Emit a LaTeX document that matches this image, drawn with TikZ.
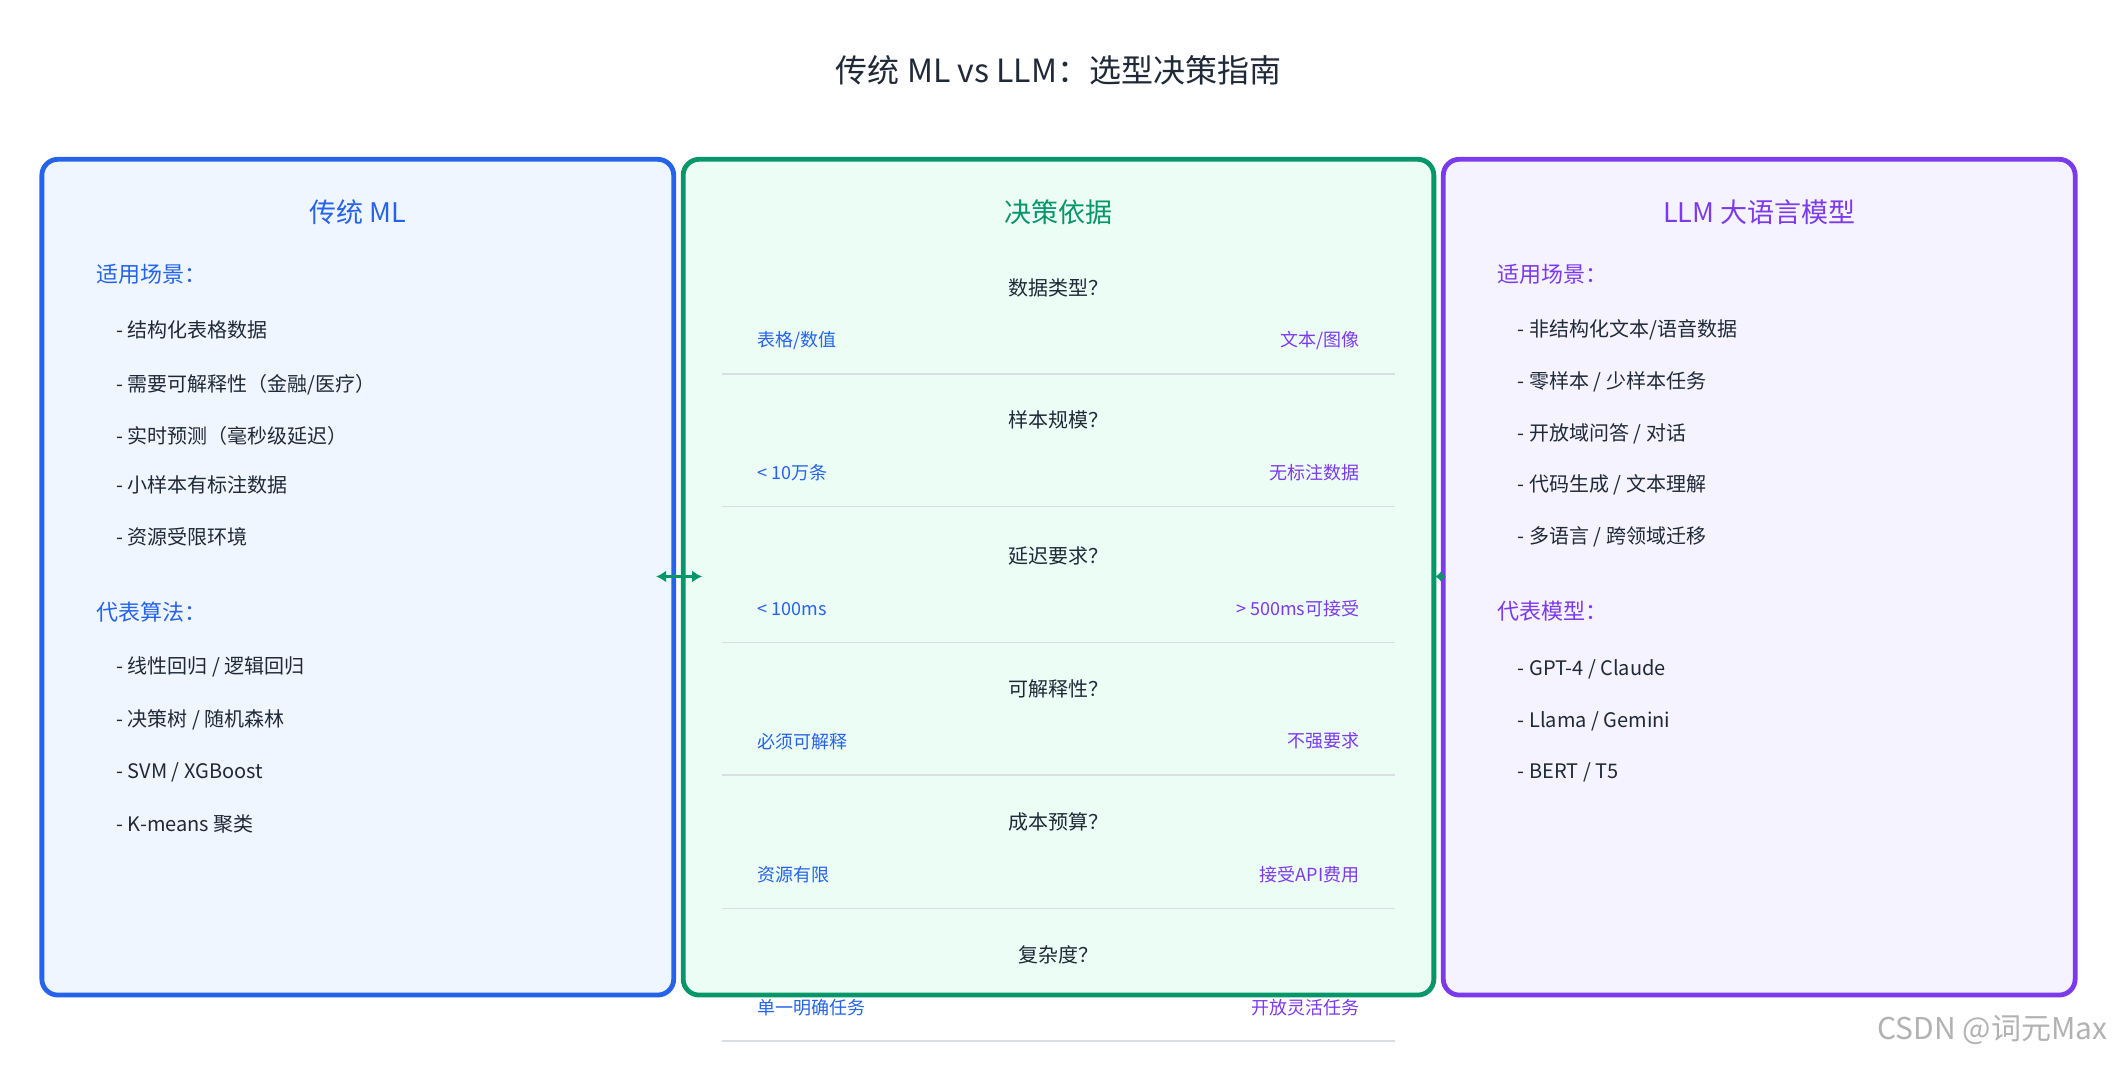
\documentclass[tikz,border=0pt]{standalone}
\usepackage{fontspec}
\setmainfont{Noto Sans CJK SC}
\usetikzlibrary{arrows.meta}
\definecolor{cb}{HTML}{2563EB}\definecolor{fb}{HTML}{EFF6FF}
\definecolor{cg}{HTML}{059669}\definecolor{fg}{HTML}{ECFDF5}
\definecolor{cp}{HTML}{7C3AED}\definecolor{fp}{HTML}{F5F3FF}
\definecolor{tx}{HTML}{1F2937}\definecolor{sep}{HTML}{D9DEE4}
\begin{document}
\begin{tikzpicture}[x=0.675pt,y=-0.675pt,
 box/.style={line width=2.4pt,rounded corners=8pt},
 hdr/.style={font=\fontsize{13.5}{16}\selectfont},
 sub/.style={anchor=west,font=\fontsize{11}{13}\selectfont},
 item/.style={anchor=west,text=tx,font=\fontsize{10}{12}\selectfont},
 q/.style={text=tx,font=\fontsize{10}{12}\selectfont},
 opl/.style={anchor=west,text=cb,font=\fontsize{9}{11}\selectfont},
 opr/.style={anchor=east,text=cp,font=\fontsize{9}{11}\selectfont},
 sp/.style={draw=sep,line width=0.6pt}]
\useasboundingbox[fill=white] (0,0) rectangle (1568,790);
\node[text=tx,font=\fontsize{16}{19}\selectfont] (title) at (784,52) {传统 ML vs LLM：选型决策指南};
% boxes
\draw[box,draw=cb,fill=fb] (31,118) rectangle (499,737);
\draw[box,draw=cg,fill=fg] (506,118) rectangle (1062,737);
\draw[box,draw=cp,fill=fp] (1069,118) rectangle (1537,737);
% left
\node[hdr,text=cb] (lh) at (265,157) {传统 ML};
\node[sub,text=cb] (ls1) at (66,203) {适用场景：};
\foreach \t/\y [count=\i] in {{结构化表格数据}/244,{需要可解释性（金融/医疗）}/285,{实时预测（毫秒级延迟）}/323,{小样本有标注数据}/359,{资源受限环境}/398}
  \node[item] (li\i) at (81,\y) {- \t};
\node[sub,text=cb] (ls2) at (66,453) {代表算法：};
\foreach \t/\y [count=\i] in {{线性回归 / 逻辑回归}/494,{决策树 / 随机森林}/533,{SVM / XGBoost}/572,{K-means 聚类}/610}
  \node[item] (la\i) at (81,\y) {- \t};
% center
\node[hdr,text=cg] (ch) at (784,157) {决策依据};
\foreach \qq/\a/\b/\y [count=\i] in {{数据类型？}/{表格/数值}/{文本/图像}/213,{样本规模？}/{< 10万条}/{无标注数据}/311,{延迟要求？}/{< 100ms}/{> 500ms可接受}/412,{可解释性？}/{必须可解释}/{不强要求}/510,{成本预算？}/{资源有限}/{接受API费用}/609,{复杂度？}/{单一明确任务}/{开放灵活任务}/707}{
  \node[q] (q\i) at (784,\y) {\qq};
  \node[opl] (a\i) at (556,\y+39) {\a};
  \node[opr] (b\i) at (1012,\y+39) {\b};
  \coordinate (s\i l) at (535,\y+64);
  \coordinate (s\i r) at (1033,\y+64);
  \draw[sp] (s\i l) -- (s\i r);
}
% right
\node[hdr,text=cp] (rh) at (1303,157) {LLM 大语言模型};
\node[sub,text=cp] (rs1) at (1104,203) {适用场景：};
\foreach \t/\y [count=\i] in {{非结构化文本/语音数据}/244,{零样本 / 少样本任务}/283,{开放域问答 / 对话}/321,{代码生成 / 文本理解}/359,{多语言 / 跨领域迁移}/398}
  \node[item] (ri\i) at (1119,\y) {- \t};
\node[sub,text=cp] (rs2) at (1104,453) {代表模型：};
\foreach \t/\y [count=\i] in {{GPT-4 / Claude}/496,{Llama / Gemini}/534,{BERT / T5}/572}
  \node[item] (rm\i) at (1119,\y) {- \t};
% arrows
\coordinate (al) at (486,427); \coordinate (ar) at (520,427);
\draw[cg,line width=1.6pt,{Latex[length=5pt,width=6pt]}-{Latex[length=5pt,width=6pt]}] (al) -- (ar);
\coordinate (bl) at (1063,427); \coordinate (br) at (1071,427);
\draw[cg,line width=1.6pt,{Latex[length=3pt,width=5pt]}-{Latex[length=3pt,width=5pt]}] (bl) -- (br);
\node[anchor=east,text=black!30,font=\fontsize{15}{18}\selectfont] (wm) at (1566,763) {CSDN @词元Max};
\end{tikzpicture}
\end{document}
